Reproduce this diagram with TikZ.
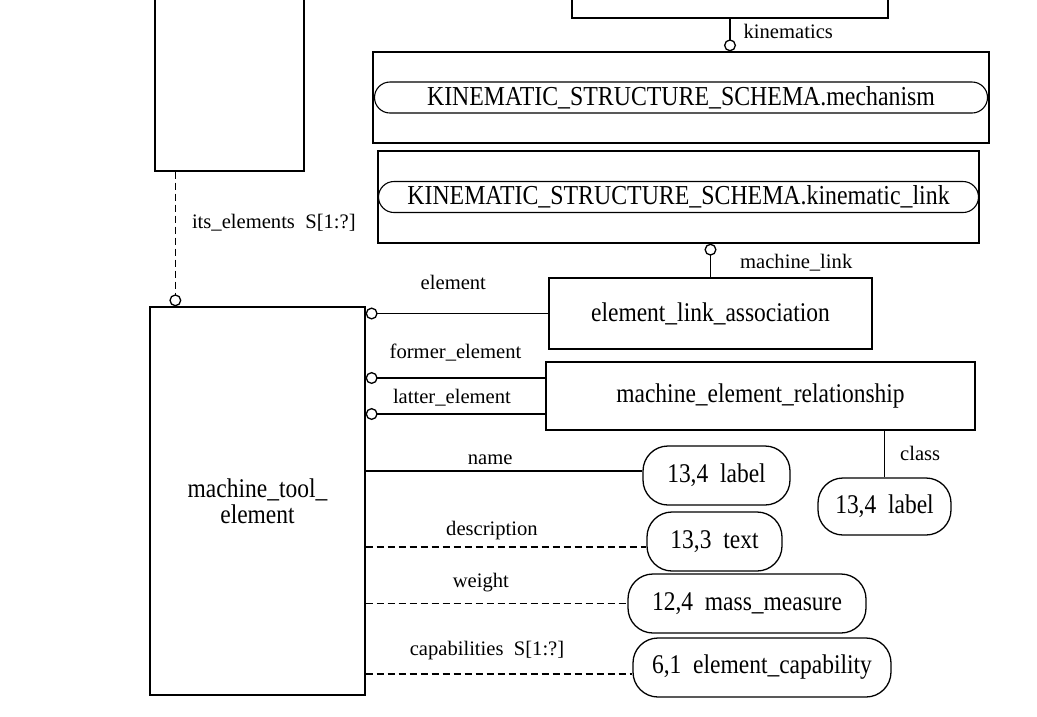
\documentclass[tikz,border=0pt]{standalone}
\usepackage{fontspec}
\setmainfont{Liberation Serif}
\newfontfamily\boxfont{Liberation Serif}[FakeStretch=0.87]
\usepackage{tikz}
\usetikzlibrary{%
  arrows.meta, calc, positioning
}
\usepackage{xcolor}
\tikzstyle{enode} = [%
  rectangle,
  draw=black,
  line width=1.3pt,
  align=center,
  fill=none,
  text centered,
  inner sep=0pt,
  font=\boxfont\fontsize{27}{26}\selectfont
]
\tikzstyle{tnode} = [%
  rectangle,
  rounded corners=25pt,
  draw=black,
  line width=1.3pt,
  minimum height=59pt,
  align=center,
  text centered,
  inner sep=0pt,
  font=\boxfont\fontsize{27}{30}\selectfont
]

\begin{document}
\begin{tikzpicture}[%
  x=1pt, y=-1pt,
  line width=1.3pt,
  ring/.style={-{Circle[open,length=12pt]}},
  dsh/.style={dash pattern=on 7pt off 4pt},
  lbl/.style={font=\fontsize{20.6}{23}\selectfont, inner sep=1pt, text=black},
  schref/.style={%
    rectangle, rounded corners=15.5pt, draw=black, line width=1.1pt,
    minimum height=31pt, inner sep=0pt,
    font=\boxfont\fontsize{27.4}{30}\selectfont
  }
]
  \useasboundingbox (0,0) rectangle (1037,716);

  % Entities
  \node[enode,minimum width=215pt,minimum height=388pt] (mte) at (257.5,501) {machine\_tool\_\\element};
  \node[enode,minimum width=149pt,minimum height=211pt] (grp) at (229.5,65.5) {};
  \node[enode,minimum width=316pt,minimum height=76pt] (top) at (730,-20) {};
  \node[enode,minimum width=616pt,minimum height=91pt] (mech) at (681,97.5) {};
  \node[schref,minimum width=613pt] (mechref) at (mech.center) {KINEMATIC\_STRUCTURE\_SCHEMA.mechanism};
  \node[enode,minimum width=601pt,minimum height=92pt,below=6.7pt of mech,xshift=-2.5pt] (link) {};
  \node[schref,minimum width=600pt] (linkref) at (link.center) {KINEMATIC\_STRUCTURE\_SCHEMA.kinematic\_link};
  \node[enode,minimum width=323pt,minimum height=71pt,below=33.7pt of link,xshift=32pt] (ela) {element\_link\_association};
  \node[enode,minimum width=429pt,minimum height=68pt,below=11.7pt of ela,xshift=50pt] (mer) {machine\_element\_relationship};

  % Types
  \node[tnode,minimum width=133pt,minimum height=57pt] (cls) at (884.5,506.5) {13,4~~label};
  \node[tnode,minimum width=147pt] (nam) at (716.5,475.5) {13,4~~label};
  \node[tnode,minimum width=135pt,below=5.7pt of nam,xshift=-2pt] (txt) {13,3~~text};
  \node[tnode,minimum width=238pt,below=1.7pt of txt,xshift=32.5pt] (mass) {12,4~~mass\_measure};
  \node[tnode,minimum width=258pt,below=3.7pt of mass,xshift=15pt] (cap) {6,1~~element\_capability};

  % Relationships
  \coordinate (g1) at ([xshift=21pt]grp.south west);
  \coordinate (m1) at ([yshift=18pt]mer.west);
  \coordinate (m2) at ([yshift=-18pt]mer.west);
  \draw[dsh,ring] (g1) to node [lbl,pos=0.38,right=15pt] {its\_elements~~S[1:?]} (g1 |- mte.north);
  \draw[ring] (top.south) to node [lbl,pos=0.4,right=12pt] {kinematics} (top.south |- mech.north);
  \draw[ring] (ela.north) to node [lbl,pos=0.43,right=28pt] {machine\_link} (ela.north |- link.south);
  \draw[ring] (ela.west) to node [lbl,pos=0.52,above=22pt] {element} (mte.east |- ela.west);
  \draw[ring] (m1) to node [lbl,pos=0.5,above=15pt] {former\_element} (mte.east |- m1);
  \draw[ring] (m2) to node [lbl,pos=0.52,above=6pt] {latter\_element} (mte.east |- m2);
  \draw (mer.south -| cls.north) to node [lbl,pos=0.48,right=14pt] {class} (cls.north);

  % Attributes
  \coordinate (a1) at ([yshift=4.5pt]nam.west);
  \coordinate (a2) at ([yshift=-5.5pt]txt.west);
  \coordinate (a3) at (mass.west);
  \coordinate (a4) at ([yshift=-6.5pt]cap.west);
  \draw (mte.east |- a1) to node [lbl,pos=0.45,above=5pt] {name} (a1);
  \draw[dsh] (mte.east |- a2) to node [lbl,pos=0.45,above=5pt] {description} (a2);
  \draw[dsh] (mte.east |- a3) to node [lbl,pos=0.44,above=10pt] {weight} (a3);
  \draw[dsh] (mte.east |- a4) to node [lbl,pos=0.455,above=12pt] {capabilities~~S[1:?]} (a4);

\end{tikzpicture}
\end{document}
